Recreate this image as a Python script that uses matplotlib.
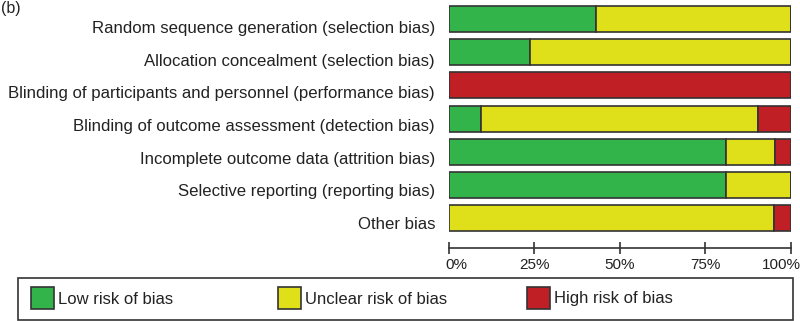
import matplotlib
matplotlib.use("Agg")
import matplotlib.pyplot as plt
from matplotlib.patches import Rectangle
from matplotlib.transforms import ScaledTranslation

categories = [
    "Random sequence generation (selection bias)",
    "Allocation concealment (selection bias)",
    "Blinding of participants and personnel (performance bias)",
    "Blinding of outcome assessment (detection bias)",
    "Incomplete outcome data (attrition bias)",
    "Selective reporting (reporting bias)",
    "Other bias",
]
low = [42.9, 23.8, 0.0, 9.5, 81.0, 81.0, 0.0]
unclear = [57.1, 76.2, 0.0, 81.0, 14.3, 19.0, 95.2]
high = [0.0, 0.0, 100.0, 9.5, 4.8, 0.0, 4.8]
xticks = [0, 25, 50, 75, 100]
xticklabels = ["0%", "25%", "50%", "75%", "100%"]
legend_labels = ["Low risk of bias", "Unclear risk of bias", "High risk of bias"]

c_low, c_unc, c_high = "#33b44a", "#e0e01a", "#c11f26"
edge = "#333333"
txt = "#222222"

plt.rcParams["font.family"] = ["Liberation Sans", "DejaVu Sans"]

W, H = 800, 321
fig = plt.figure(figsize=(W / 100, H / 100), dpi=100)
ax = fig.add_axes([449 / W, 1 - 248 / H, (790.7 - 449) / W, (248 - 2.4) / H])

y = list(range(len(categories)))
h = 0.78
left2 = [a + b for a, b in zip(low, unclear)]
ax.barh(y, low, height=h, color=c_low, edgecolor=edge, linewidth=1.2)
ax.barh(y, unclear, left=low, height=h, color=c_unc, edgecolor=edge, linewidth=1.2)
ax.barh(y, high, left=left2, height=h, color=c_high, edgecolor=edge, linewidth=1.2)

ax.set_xlim(0, 100)
ax.set_ylim(len(categories) - 1 + 0.9, -0.5)
ax.set_yticks(y)
ax.set_yticklabels(categories, fontsize=12.1, color=txt)
ax.tick_params(axis="y", length=0, pad=10)
for i, lab in enumerate(ax.get_yticklabels()):
    dy = -(8 - 0.5 * i) / 100
    lab.set_transform(lab.get_transform() + ScaledTranslation(0, dy, fig.dpi_scale_trans))
ax.set_xticks(xticks)
ax.set_xticklabels(xticklabels, fontsize=11, color=txt)
ax.tick_params(axis="x", direction="inout", length=9, width=1.2, color=edge, pad=3)
labs = ax.get_xticklabels()
labs[0].set_transform(labs[0].get_transform() + ScaledTranslation(7 / 100, 0, fig.dpi_scale_trans))
labs[-1].set_transform(labs[-1].get_transform() + ScaledTranslation(-9 / 100, 0, fig.dpi_scale_trans))
for s in ["left", "top", "right"]:
    ax.spines[s].set_visible(False)
ax.spines["bottom"].set_color(edge)
ax.spines["bottom"].set_linewidth(1.2)
ax.set_facecolor("none")

fig.text(1 / W, 1 - 8 / H, "(b)", fontsize=11.5, va="center", ha="left", color=txt)

# legend box
fig.patches.append(Rectangle((18 / W, 1 - 319.5 / H), (793 - 18) / W, (319.5 - 277.5) / H,
                             transform=fig.transFigure, fill=False, edgecolor=edge, linewidth=1.2))
for px, col, lab in [(31, c_low, legend_labels[0]), (278, c_unc, legend_labels[1]), (527, c_high, legend_labels[2])]:
    fig.patches.append(Rectangle((px / W, 1 - 309 / H), 23 / W, 22 / H, transform=fig.transFigure,
                                 facecolor=col, edgecolor=edge, linewidth=1.2))
    fig.text((px + 27) / W, 1 - 299 / H, lab, fontsize=12, va="center", ha="left", color=txt)

fig.savefig("out.png", dpi=100)
